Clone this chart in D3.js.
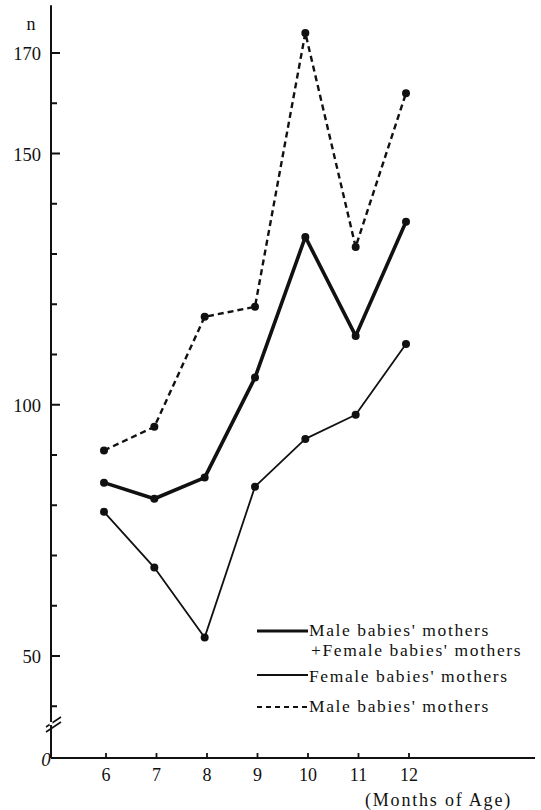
<!DOCTYPE html>
<html>
<head>
<meta charset="utf-8">
<script src="https://cdn.jsdelivr.net/npm/d3@7"></script>
<style>
  html, body { margin: 0; padding: 0; background: #fff; }
  svg { display: block; }
  text { font-family: "Liberation Serif", "DejaVu Serif", serif; fill: #111; }
</style>
</head>
<body>
<svg id="chart" width="541" height="810"></svg>
<script>
// ---- data ----
const months = [6, 7, 8, 9, 10, 11, 12];
const combined = [84.5, 81.3, 85.5, 105.4, 133.4, 113.7, 136.4];
const female = [78.7, 67.6, 53.7, 83.7, 93.2, 98.0, 112.1];
const male = [90.9, 95.6, 117.5, 119.5, 174.0, 131.4, 162.0];
const yTickValues = [40, 50, 60, 70, 80, 90, 100, 110, 120, 130, 140, 150, 160, 170];
const yTickLabels = ["50", "100", "150", "170"];
const legendLabels = [["Male babies' mothers", "+Female babies' mothers"], ["Female babies' mothers"], ["Male babies' mothers"]];

// ---- layout ----
const svg = d3.select("#chart");
const axisX = 51;
const x = d3.scaleLinear().domain([6, 12]).range([104, 406]);
const xTick = d3.scaleLinear().domain([6, 12]).range([106, 409]);
const y = d3.scaleLinear().domain([50, 170]).range([656, 53]);
const zeroY = 758;
const ink = "#111";

// y axis line
svg.append("line").attr("x1", axisX).attr("x2", axisX)
  .attr("y1", y(179.5)).attr("y2", zeroY)
  .attr("stroke", ink).attr("stroke-width", 2);

// y ticks
const g = svg.append("g");
yTickValues.forEach(v => {
  const major = yTickLabels.includes(String(v));
  g.append("line").attr("x1", axisX).attr("x2", axisX + (major ? 9 : 6))
    .attr("y1", y(v)).attr("y2", y(v))
    .attr("stroke", ink).attr("stroke-width", 2);
  if (major) {
    g.append("text").attr("x", axisX - 10).attr("y", y(v) + 7)
      .attr("text-anchor", "end").attr("font-size", 18.5).text(String(v));
  }
});
// "n" label
svg.append("text").attr("x", 31).attr("y", 30).attr("text-anchor", "middle")
  .attr("font-size", 18).text("n");

// axis break marks
[0, 5].forEach(d => {
  svg.append("line").attr("x1", axisX - 5).attr("y1", 727 + d)
    .attr("x2", axisX + 10).attr("y2", 717 + d)
    .attr("stroke", ink).attr("stroke-width", 1.6);
});
svg.append("line").attr("x1", axisX).attr("x2", axisX).attr("y1", 722).attr("y2", 725)
  .attr("stroke", "#fff").attr("stroke-width", 3);

// zero label
svg.append("text").attr("x", 46).attr("y", 766).attr("text-anchor", "middle")
  .attr("font-size", 19).attr("font-style", "italic").text("0");

// x axis
svg.append("line").attr("x1", axisX).attr("x2", 535).attr("y1", zeroY).attr("y2", zeroY)
  .attr("stroke", ink).attr("stroke-width", 2);
months.forEach(m => {
  svg.append("line").attr("x1", xTick(m)).attr("x2", xTick(m))
    .attr("y1", zeroY).attr("y2", zeroY - 5)
    .attr("stroke", ink).attr("stroke-width", 1.8);
  svg.append("text").attr("x", xTick(m)).attr("y", 781)
    .attr("text-anchor", "middle").attr("font-size", 18).text(String(m));
});
svg.append("text").attr("x", 365).attr("y", 806).attr("font-size", 18)
  .attr("letter-spacing", 1.8).text("(Months of Age)");

// ---- series ----
const series = [
  { values: male, width: 2.4, dash: "6,4" },
  { values: female, width: 1.8, dash: null },
  { values: combined, width: 3.6, dash: null }
];
const line = d3.line().x((d, i) => x(months[i])).y(d => y(d));
series.forEach(s => {
  svg.append("path").datum(s.values).attr("d", line)
    .attr("fill", "none").attr("stroke", ink)
    .attr("stroke-width", s.width)
    .attr("stroke-linejoin", "round")
    .attr("stroke-dasharray", s.dash);
  svg.selectAll(null).data(s.values).enter().append("circle")
    .attr("cx", (d, i) => x(months[i])).attr("cy", d => y(d))
    .attr("r", 4).attr("fill", ink);
});

// ---- legend ----
const leg = svg.append("g");
const legendItems = [
  { ly: 631, width: 3.0, dash: null, ty: 636, lines: legendLabels[0] },
  { ly: 675, width: 1.8, dash: null, ty: 682, lines: legendLabels[1] },
  { ly: 707, width: 2.0, dash: "5,4", ty: 712, lines: legendLabels[2] }
];
legendItems.forEach(it => {
  leg.append("line").attr("x1", 257).attr("x2", 308).attr("y1", it.ly).attr("y2", it.ly)
    .attr("stroke", ink).attr("stroke-width", it.width).attr("stroke-dasharray", it.dash);
  it.lines.forEach((t, k) => {
    leg.append("text").attr("x", k === 0 ? 309 : 311).attr("y", it.ty + k * 19.5)
      .attr("font-size", 17.5).attr("letter-spacing", 1.6).text(t);
  });
});
</script>
</body>
</html>
